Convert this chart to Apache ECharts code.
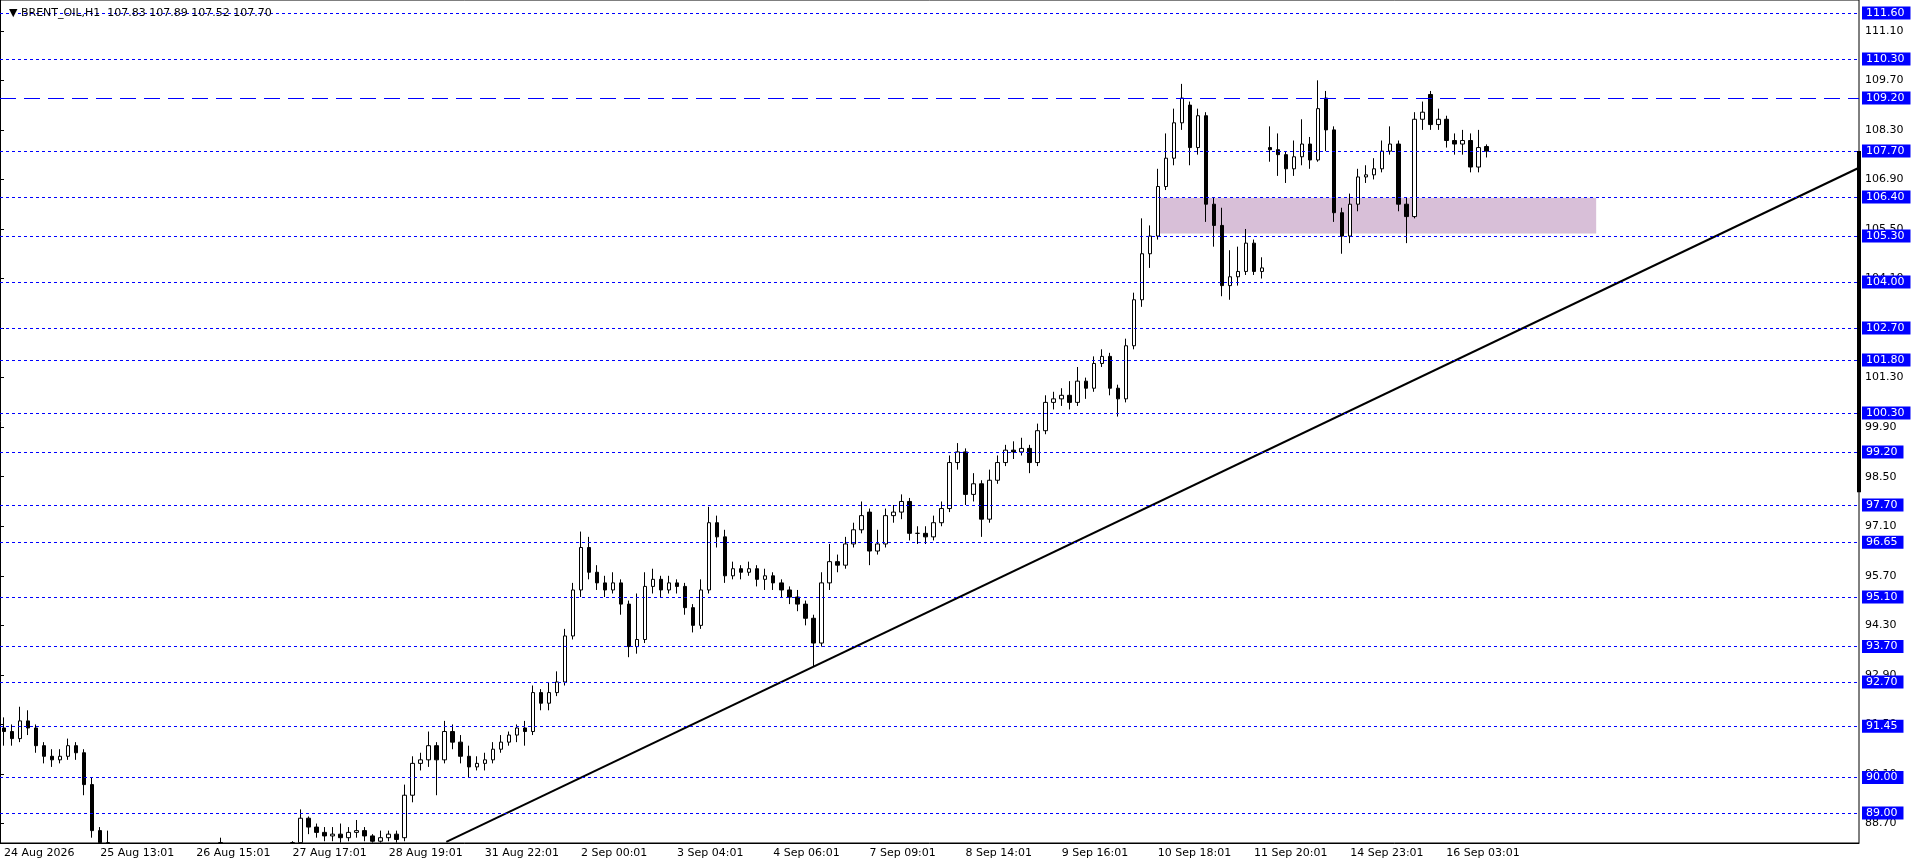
<!DOCTYPE html>
<html>
<head>
<meta charset="utf-8">
<script src="https://cdn.jsdelivr.net/npm/echarts@6/dist/echarts.min.js"></script>
<style>
  html, body { margin: 0; padding: 0; background: #fff; }
  #chart { width: 1916px; height: 868px; }
</style>
</head>
<body>
<div id="chart"></div>
<script>
// bar dates shown under the time axis, one every 12 bars
const timeLabels = [
  "24 Aug 2026", "25 Aug 13:01", "26 Aug 15:01", "27 Aug 17:01", "28 Aug 19:01",
  "31 Aug 22:01", "2 Sep 00:01", "3 Sep 04:01", "4 Sep 06:01", "7 Sep 09:01",
  "8 Sep 14:01", "9 Sep 16:01", "10 Sep 18:01", "11 Sep 20:01", "14 Sep 23:01",
  "16 Sep 03:01"
];

// [open, close, low, high]; '-' = bar below the visible price range
const bars = [
  [91.4,91.3,90.9,91.7],[91.3,91.1,90.9,91.5],[91.1,91.6,91.0,92.0],[91.6,91.4,91.2,91.9],
  [91.4,90.9,90.7,91.5],[90.9,90.6,90.4,91.0],[90.6,90.5,90.3,90.8],[90.5,90.6,90.4,90.8],
  [90.6,90.9,90.5,91.1],[90.9,90.7,90.5,91.0],[90.7,89.8,89.5,90.8],[89.8,88.5,88.3,90.0],
  [88.5,88.16,88.16,88.6],[88.16,88.16,88.16,88.5],'-','-',
  '-','-','-','-',
  '-','-','-','-',
  '-','-','-',[88.16,88.16,88.16,88.3],
  '-','-','-','-',
  '-','-','-','-',
  [88.16,88.16,88.16,88.2],[88.16,88.85,88.16,89.1],[88.85,88.6,88.4,88.9],[88.6,88.45,88.3,88.7],
  [88.45,88.35,88.2,88.6],[88.35,88.4,88.2,88.6],[88.4,88.3,88.16,88.7],[88.3,88.45,88.2,88.6],
  [88.45,88.5,88.3,88.8],[88.5,88.35,88.2,88.6],[88.35,88.2,88.16,88.4],[88.2,88.3,88.16,88.5],
  [88.3,88.4,88.2,88.5],[88.4,88.25,88.16,88.5],[88.3,89.5,88.2,89.8],[89.5,90.4,89.3,90.6],
  [90.4,90.5,90.2,90.7],[90.5,90.9,90.3,91.3],[90.9,90.5,89.5,91.0],[90.5,91.3,90.4,91.6],
  [91.3,91.0,90.8,91.5],[91.0,90.6,90.4,91.2],[90.6,90.3,90.0,90.9],[90.3,90.4,90.2,90.6],
  [90.4,90.5,90.2,90.7],[90.5,90.8,90.4,91.0],[90.8,91.0,90.7,91.2],[91.0,91.2,90.9,91.3],
  [91.2,91.4,91.0,91.5],[91.4,91.3,90.9,91.6],[91.3,92.4,91.2,92.6],[92.4,92.1,91.9,92.5],
  [92.1,92.4,91.9,92.7],[92.4,92.7,92.3,93.0],[92.7,94.0,92.6,94.2],[94.0,95.3,93.9,95.5],
  [95.3,96.5,95.1,96.95],[96.5,95.8,95.6,96.8],[95.8,95.5,95.3,96.0],[95.5,95.3,95.1,95.7],
  [95.3,95.5,95.2,95.8],[95.5,94.9,94.6,95.6],[94.9,93.7,93.4,95.0],[93.7,93.9,93.5,95.2],
  [93.9,95.4,93.8,95.8],[95.4,95.6,95.2,95.9],[95.6,95.3,95.1,95.7],[95.3,95.5,95.2,95.7],
  [95.5,95.4,95.2,95.6],[95.4,94.8,94.6,95.5],[94.8,94.3,94.1,94.9],[94.3,95.3,94.2,95.6],
  [95.3,97.2,95.2,97.65],[97.2,96.8,96.5,97.4],[96.8,95.7,95.5,97.0],[95.7,95.9,95.6,96.1],
  [95.9,95.8,95.6,96.0],[95.8,95.9,95.7,96.1],[95.9,95.6,95.4,96.0],[95.6,95.7,95.3,95.9],
  [95.7,95.5,95.3,95.8],[95.5,95.3,95.1,95.6],[95.3,95.1,94.9,95.4],[95.1,94.9,94.7,95.3],
  [94.9,94.5,94.3,95.0],[94.5,93.8,93.15,94.6],[93.8,95.5,93.7,95.8],[95.5,96.1,95.3,96.6],
  [96.1,96.0,95.8,96.3],[96.0,96.6,95.9,96.8],[96.6,97.0,96.5,97.2],[97.0,97.4,96.9,97.8],
  [97.5,96.4,96.0,97.6],[96.4,96.6,96.3,97.0],[96.6,97.4,96.5,97.6],[97.4,97.5,97.2,97.7],
  [97.5,97.8,97.3,98.0],[97.8,96.9,96.7,97.9],[96.9,96.9,96.6,97.1],[96.9,96.8,96.6,97.1],
  [96.8,97.2,96.7,97.4],[97.2,97.6,97.1,97.8],[97.6,98.9,97.5,99.1],[98.9,99.2,98.7,99.45],
  [99.2,98.0,97.7,99.3],[98.0,98.3,97.8,98.6],[98.3,97.3,96.8,98.4],[97.3,98.4,97.2,98.7],
  [98.4,98.9,98.3,99.1],[98.9,99.25,98.8,99.4],[99.25,99.2,99.0,99.5],[99.2,99.3,99.1,99.6],
  [99.3,98.9,98.6,99.4],[98.9,99.8,98.8,100.0],[99.8,100.6,99.7,100.8],[100.6,100.7,100.4,100.9],
  [100.7,100.8,100.5,101.0],[100.8,100.6,100.4,101.2],[100.6,101.2,100.5,101.6],[101.2,101.0,100.7,101.3],
  [101.0,101.7,100.9,101.9],[101.7,101.9,101.6,102.1],[101.9,101.0,100.8,102.0],[101.0,100.7,100.2,101.1],
  [100.7,102.2,100.6,102.4],[102.2,103.5,102.1,103.7],[103.5,104.8,103.3,105.8],[104.8,105.3,104.4,105.6],
  [105.3,106.7,105.2,107.2],[106.7,107.5,106.6,108.2],[107.5,108.5,107.3,108.9],[108.5,109.2,108.3,109.6],
  [109.0,107.8,107.3,109.1],[107.8,108.7,107.6,108.9],[108.7,106.2,105.7,108.8],[106.2,105.6,105.0,106.4],
  [105.6,103.9,103.6,106.1],[103.9,104.15,103.5,104.9],[104.15,104.3,103.9,105.0],[104.3,105.1,104.2,105.5],
  [105.1,104.3,104.2,105.2],[104.3,104.4,104.1,104.7],[107.8,107.74,107.4,108.4],[107.74,107.6,107.0,108.2],
  [107.6,107.2,106.8,107.7],[107.2,107.54,107.0,108.0],[107.54,107.9,107.3,108.6],[107.9,107.45,107.2,108.1],
  [107.45,108.9,107.4,109.7],[109.2,108.3,107.7,109.4],[108.3,105.96,105.7,108.4],[105.96,105.3,104.8,106.1],
  [105.3,106.2,105.1,106.5],[106.2,106.97,106.0,107.2],[106.97,107.03,106.8,107.3],[107.03,107.2,106.9,107.5],
  [107.2,107.7,107.1,108.0],[107.7,107.9,107.6,108.4],[107.9,106.2,106.0,108.0],[106.2,105.85,105.1,106.4],
  [105.85,108.6,105.8,108.8],[108.6,108.8,108.3,109.1],[109.3,108.45,108.3,109.4],[108.45,108.6,108.3,108.9],
  [108.6,108.0,107.8,108.7],[108.0,107.9,107.6,108.2],[107.9,108.0,107.6,108.3],[108.0,107.25,107.1,108.2],
  [107.25,107.8,107.1,108.3],[107.83,107.70,107.52,107.89]
];

// regular price scale ticks
const priceTicks = [88.70, 90.10, 91.50, 92.90, 94.30, 95.70, 97.10, 98.50, 99.90,
  101.30, 102.70, 104.10, 105.50, 106.90, 108.30, 109.70, 111.10];

// dotted horizontal levels with boxed labels
const levels = [111.60, 110.30, 107.70, 106.40, 105.30, 104.00, 102.70, 101.80, 100.30,
  99.20, 97.70, 96.65, 95.10, 93.70, 92.70, 91.45, 90.00, 89.00];
const dashedLevel = 109.20;

// trend line [bar slot, price]
const trendLine = [[55.7, 88.18], [232, 107.23]];
// shaded zone [from slot, to slot, top price, bottom price]
const zone = [144.3, 199.2, 106.38, 105.37];
// current price marker on the scale
const scaleMarker = [[232, 107.70], [232, 98.06]];

const slotCount = 232;
const categories = [];
for (let i = 0; i < slotCount; i++) categories.push(i);

const blue = '#0000ff';

const levelLines = levels.map(v => ({
  yAxis: v,
  lineStyle: { type: [3, 3], color: blue, width: 1 },
}));
levelLines.push({
  yAxis: dashedLevel,
  lineStyle: { type: [16, 8], color: blue, width: 1 },
});

const option = {
  animation: false,
  backgroundColor: '#ffffff',
  textStyle: { fontFamily: 'DejaVu Sans' },
  title: {
    text: '\u25BC BRENT_OIL,H1  107.83 107.89 107.52 107.70',
    left: 4, top: 3,
    textStyle: { fontSize: 11, fontWeight: 'normal', color: '#000', fontFamily: 'DejaVu Sans' },
  },
  grid: {
    left: 0, right: 57, top: 0, bottom: 25,
    show: true, borderColor: '#000', borderWidth: 1, backgroundColor: '#fff',
  },
  xAxis: [
    {
      type: 'category',
      data: categories,
      boundaryGap: true,
      axisLine: { lineStyle: { color: '#000' } },
      axisTick: {
        alignWithLabel: true,
        interval: (i) => i % 12 === 0 && i / 12 < timeLabels.length,
        length: 3, lineStyle: { color: '#000' },
      },
      axisLabel: {
        interval: (i) => i % 12 === 0 && i / 12 < timeLabels.length,
        formatter: (v, i) => timeLabels[i / 12] || '',
        align: 'left', color: '#000', fontSize: 11, margin: 5,
        fontFamily: 'DejaVu Sans',
      },
      splitLine: { show: false },
    },
    {
      type: 'value', min: 0, max: slotCount, show: false,
    },
  ],
  yAxis: {
    type: 'value',
    position: 'right',
    min: 88.15, max: 111.97,
    scale: true,
    splitLine: { show: false },
    axisLine: { show: true, lineStyle: { color: '#000' } },
    axisTick: { show: true, customValues: priceTicks, length: 4, lineStyle: { color: '#000' } },
    axisLabel: {
      customValues: priceTicks,
      formatter: (v) => v.toFixed(2),
      color: '#000', fontSize: 11, margin: 6, fontFamily: 'DejaVu Sans',
    },
  },
  series: [
    {
      type: 'candlestick',
      data: bars,
      barWidth: 4,
      clip: true,
      itemStyle: {
        color: '#ffffff', color0: '#000000',
        borderColor: '#000000', borderColor0: '#000000', borderWidth: 1,
      },
      markLine: {
        silent: true,
        symbol: 'none',
        label: {
          position: 'end',
          distance: 3,
          formatter: (p) => p.value.toFixed(2),
          color: '#fff',
          backgroundColor: blue,
          padding: [1, 6, 1, 4],
          fontSize: 11,
          fontFamily: 'DejaVu Sans',
        },
        data: levelLines,
      },
      z: 3,
    },
    {
      type: 'line',
      xAxisIndex: 1,
      data: trendLine,
      symbol: 'none',
      lineStyle: { color: '#000', width: 2 },
      z: 2,
      markArea: {
        silent: true,
        itemStyle: { color: '#d8bfd8' },
        data: [[{ coord: [zone[0], zone[2]] }, { coord: [zone[1], zone[3]] }]],
      },
    },
    {
      type: 'line',
      xAxisIndex: 1,
      data: scaleMarker,
      symbol: 'none',
      clip: false,
      lineStyle: { color: '#000', width: 4 },
      z: 4,
    },
  ],
};

const chart = echarts.init(document.getElementById('chart'));
chart.setOption(option);
</script>
</body>
</html>
